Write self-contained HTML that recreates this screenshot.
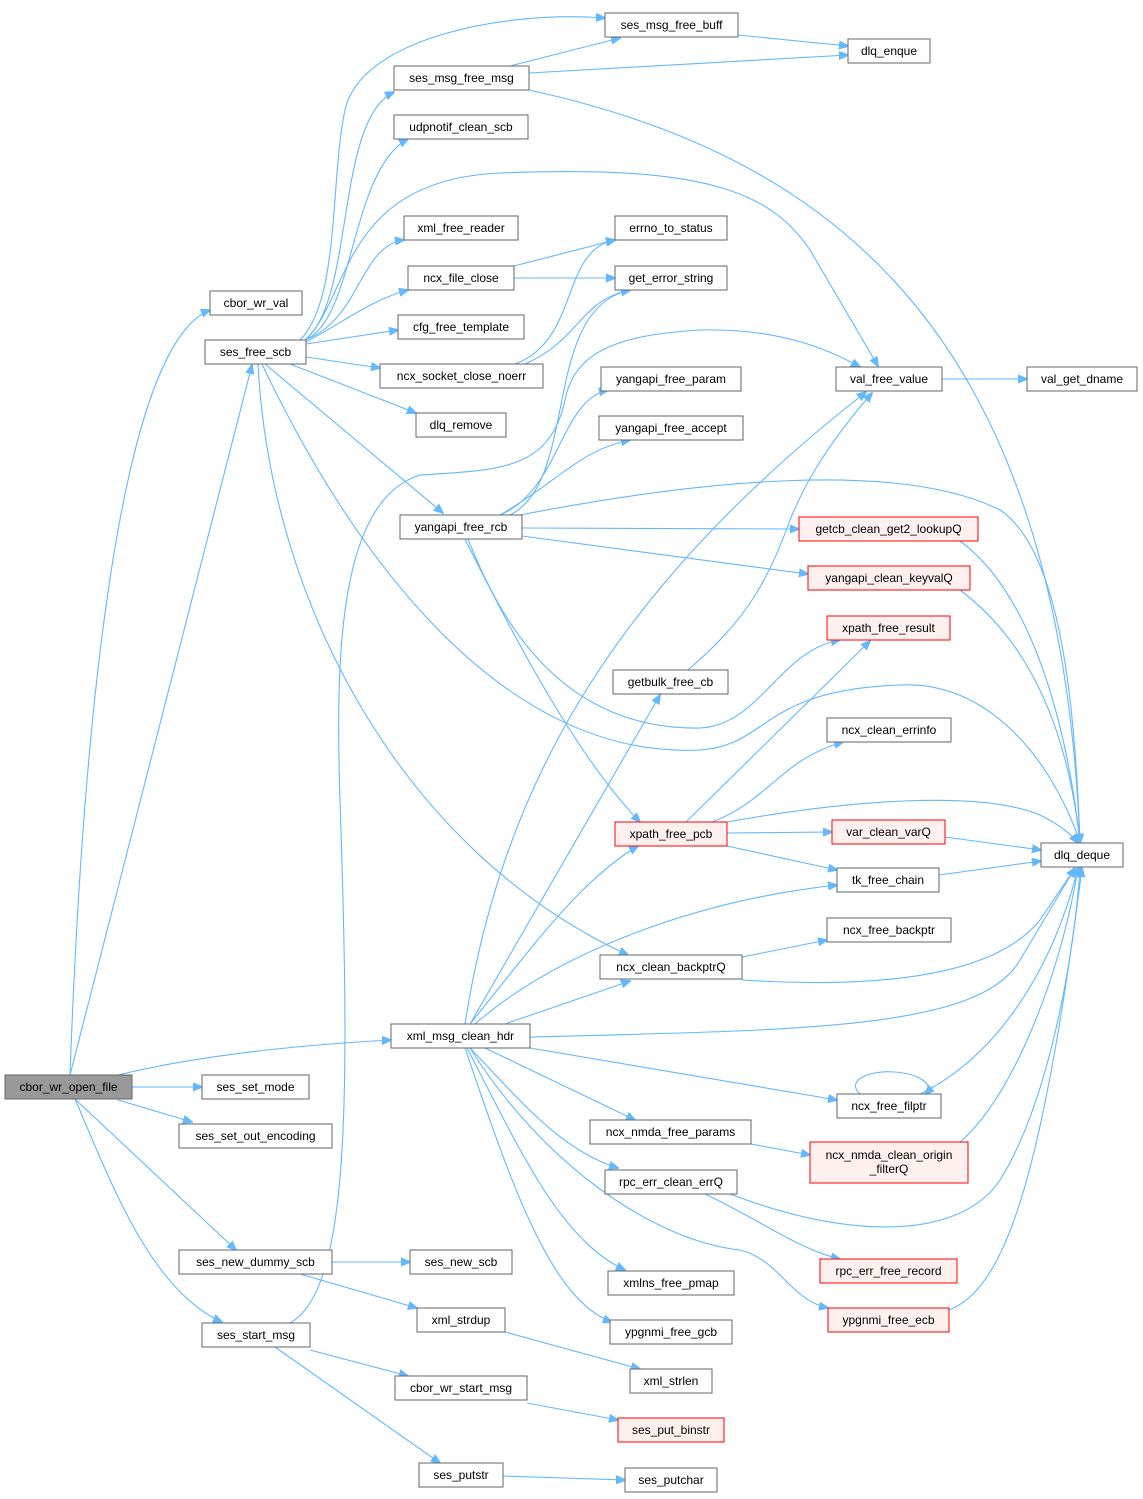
<!DOCTYPE html>
<html><head><meta charset="utf-8"><style>
html,body{margin:0;padding:0;background:#fff;}
svg{display:block;}
text{font-family:"Liberation Sans",Arial,sans-serif;font-size:12px;fill:#000;}
.e{fill:none;stroke:#63b8ff;stroke-width:1.1;marker-end:url(#a);}
.n{fill:#fff;stroke:#666;stroke-width:1;}
.r{fill:#fff0f0;stroke:#ff0000;stroke-width:1;}
.g{fill:#999;stroke:#666;stroke-width:1;}
</style></head><body>
<svg width="1143" height="1499" viewBox="0 0 1143 1499" xmlns="http://www.w3.org/2000/svg">
<defs><marker id="a" viewBox="0 0 10 10" refX="9" refY="5" markerWidth="10" markerHeight="10" markerUnits="userSpaceOnUse" orient="auto"><path d="M0,1 L10,5 L0,9 z" fill="#63b8ff" stroke="#63b8ff"/></marker></defs>
<g>
<path class="e" d="M70,1075 C80,800 110,350 210,310"/>
<path class="e" d="M70,1075 L252,365"/>
<path class="e" d="M118,1075 C200,1055 300,1045 391,1040"/>
<path class="e" d="M132,1087 L202,1087"/>
<path class="e" d="M118,1100 L192,1122"/>
<path class="e" d="M75,1099 L236,1250"/>
<path class="e" d="M75,1099 C110,1180 150,1290 222,1322"/>
<path class="e" d="M300,340 C340,300 330,180 345,110 C360,40 500,10 605,18"/>
<path class="e" d="M305,340 C355,300 335,120 394,92"/>
<path class="e" d="M305,340 C355,320 350,170 408,139"/>
<path class="e" d="M305,340 C350,300 340,180 500,173 C700,165 770,190 810,250 L878,366"/>
<path class="e" d="M305,340 C360,320 360,245 404,240"/>
<path class="e" d="M300,345 C340,325 370,300 408,290"/>
<path class="e" d="M306,344 L398,330"/>
<path class="e" d="M306,357 L380,368"/>
<path class="e" d="M290,364 L416,413"/>
<path class="e" d="M265,364 L443,513"/>
<path class="e" d="M258,364 C270,600 400,850 628,955"/>
<path class="e" d="M262,364 C350,550 500,760 700,750 C770,745 760,690 900,685 C1000,680 1060,780 1080,843"/>
<path class="e" d="M510,66 L620,38"/>
<path class="e" d="M529,73 L848,55"/>
<path class="e" d="M529,90 C850,160 1060,350 1080,843"/>
<path class="e" d="M738,35 L848,46"/>
<path class="e" d="M514,266 L615,240"/>
<path class="e" d="M514,278 L615,278"/>
<path class="e" d="M515,364 C580,340 560,250 615,240"/>
<path class="e" d="M525,364 C580,340 580,300 630,290"/>
<path class="e" d="M942,379 L1027,379"/>
<path class="e" d="M500,515 C560,490 560,400 608,390"/>
<path class="e" d="M500,515 C560,480 580,450 630,440"/>
<path class="e" d="M510,515 C580,480 540,310 630,290"/>
<path class="e" d="M520,515 C700,480 900,460 1000,510 C1060,550 1075,700 1080,843"/>
<path class="e" d="M522,528 L799,529"/>
<path class="e" d="M522,536 L808,574"/>
<path class="e" d="M465,539 C520,650 580,760 640,822"/>
<path class="e" d="M468,539 C500,620 560,730 700,728 C760,725 780,650 840,640"/>
<path class="e" d="M465,1024 C500,800 600,600 866,392"/>
<path class="e" d="M290,1323 C350,1290 350,1100 340,800 C335,650 340,500 420,475 C500,470 550,470 565,400 C575,350 620,335 700,330 C780,328 830,350 860,367"/>
<path class="e" d="M688,670 C740,625 765,590 790,520 C810,470 840,430 872,393"/>
<path class="e" d="M960,541 C1040,600 1070,750 1080,843"/>
<path class="e" d="M960,590 C1040,650 1070,750 1080,843"/>
<path class="e" d="M686,822 L870,641"/>
<path class="e" d="M712,822 C770,800 780,760 843,742"/>
<path class="e" d="M727,822 C850,800 980,790 1040,815 C1060,825 1072,835 1078,843"/>
<path class="e" d="M727,833 L832,832"/>
<path class="e" d="M727,846 L837,870"/>
<path class="e" d="M945,837 L1041,850"/>
<path class="e" d="M939,875 L1041,861"/>
<path class="e" d="M742,957 L827,940"/>
<path class="e" d="M742,980 C900,990 1000,970 1040,920 L1075,868"/>
<path class="e" d="M470,1024 L660,695"/>
<path class="e" d="M470,1024 C530,950 580,880 638,846"/>
<path class="e" d="M475,1024 C560,950 700,900 837,885"/>
<path class="e" d="M505,1024 L630,981"/>
<path class="e" d="M530,1037 C800,1030 980,1030 1020,960 L1075,868"/>
<path class="e" d="M530,1048 L837,1100"/>
<path class="e" d="M485,1048 L635,1120"/>
<path class="e" d="M470,1048 C520,1100 560,1150 618,1168"/>
<path class="e" d="M467,1048 C520,1150 560,1240 625,1270"/>
<path class="e" d="M465,1048 C510,1180 550,1300 612,1322"/>
<path class="e" d="M470,1048 C540,1160 650,1240 740,1250 C780,1260 790,1300 828,1308"/>
<path class="e" d="M860,1094 C845,1080 870,1070 895,1072 C920,1074 935,1085 925,1094"/>
<path class="e" d="M920,1094 C990,1060 1050,980 1078,868"/>
<path class="e" d="M751,1144 L810,1155"/>
<path class="e" d="M960,1142 C1010,1100 1060,980 1078,868"/>
<path class="e" d="M705,1194 C760,1220 800,1250 840,1259"/>
<path class="e" d="M730,1194 C850,1240 960,1240 1000,1180 C1050,1100 1075,950 1080,868"/>
<path class="e" d="M949,1310 C1000,1290 1040,1200 1082,868"/>
<path class="e" d="M332,1262 L410,1262"/>
<path class="e" d="M300,1274 L417,1308"/>
<path class="e" d="M505,1332 L640,1369"/>
<path class="e" d="M310,1350 L408,1376"/>
<path class="e" d="M275,1347 L440,1463"/>
<path class="e" d="M527,1403 L618,1420"/>
<path class="e" d="M503,1476 L625,1480"/>
</g>
<g text-anchor="middle">
<rect class="g" x="5" y="1075" width="127" height="24"/><text x="68.5" y="1091">cbor_wr_open_file</text>
<rect class="n" x="210" y="291" width="92" height="24"/><text x="256" y="307">cbor_wr_val</text>
<rect class="n" x="205" y="340" width="101" height="24"/><text x="255.5" y="356">ses_free_scb</text>
<rect class="n" x="202" y="1075" width="107" height="24"/><text x="255.5" y="1091">ses_set_mode</text>
<rect class="n" x="179" y="1124" width="153" height="24"/><text x="255.5" y="1140">ses_set_out_encoding</text>
<rect class="n" x="179" y="1250" width="153" height="24"/><text x="255.5" y="1266">ses_new_dummy_scb</text>
<rect class="n" x="202" y="1323" width="108" height="24"/><text x="256" y="1339">ses_start_msg</text>
<rect class="n" x="605" y="13" width="133" height="24"/><text x="671.5" y="29">ses_msg_free_buff</text>
<rect class="n" x="394" y="66" width="135" height="24"/><text x="461.5" y="82">ses_msg_free_msg</text>
<rect class="n" x="848" y="39" width="82" height="24"/><text x="889" y="55">dlq_enque</text>
<rect class="n" x="394" y="115" width="134" height="24"/><text x="461" y="131">udpnotif_clean_scb</text>
<rect class="n" x="404" y="216" width="114" height="24"/><text x="461" y="232">xml_free_reader</text>
<rect class="n" x="615" y="216" width="112" height="24"/><text x="671" y="232">errno_to_status</text>
<rect class="n" x="408" y="266" width="106" height="24"/><text x="461" y="282">ncx_file_close</text>
<rect class="n" x="615" y="266" width="112" height="24"/><text x="671" y="282">get_error_string</text>
<rect class="n" x="398" y="315" width="126" height="24"/><text x="461" y="331">cfg_free_template</text>
<rect class="n" x="380" y="364" width="163" height="24"/><text x="461.5" y="380">ncx_socket_close_noerr</text>
<rect class="n" x="836" y="367" width="106" height="24"/><text x="889" y="383">val_free_value</text>
<rect class="n" x="1027" y="367" width="110" height="24"/><text x="1082" y="383">val_get_dname</text>
<rect class="n" x="416" y="413" width="90" height="24"/><text x="461" y="429">dlq_remove</text>
<rect class="n" x="601" y="367" width="140" height="24"/><text x="671" y="383">yangapi_free_param</text>
<rect class="n" x="599" y="416" width="144" height="24"/><text x="671" y="432">yangapi_free_accept</text>
<rect class="n" x="400" y="515" width="122" height="24"/><text x="461" y="531">yangapi_free_rcb</text>
<rect class="r" x="799" y="517" width="179" height="24"/><text x="888.5" y="533">getcb_clean_get2_lookupQ</text>
<rect class="r" x="808" y="566" width="162" height="24"/><text x="889" y="582">yangapi_clean_keyvalQ</text>
<rect class="r" x="827" y="616" width="123" height="24"/><text x="888.5" y="632">xpath_free_result</text>
<rect class="n" x="613" y="670" width="115" height="24"/><text x="670.5" y="686">getbulk_free_cb</text>
<rect class="n" x="827" y="718" width="124" height="24"/><text x="889" y="734">ncx_clean_errinfo</text>
<rect class="r" x="615" y="822" width="112" height="24"/><text x="671" y="838">xpath_free_pcb</text>
<rect class="r" x="832" y="820" width="113" height="24"/><text x="888.5" y="836">var_clean_varQ</text>
<rect class="n" x="1041" y="843" width="82" height="24"/><text x="1082" y="859">dlq_deque</text>
<rect class="n" x="837" y="868" width="102" height="24"/><text x="888" y="884">tk_free_chain</text>
<rect class="n" x="827" y="918" width="124" height="24"/><text x="889" y="934">ncx_free_backptr</text>
<rect class="n" x="600" y="955" width="142" height="24"/><text x="671" y="971">ncx_clean_backptrQ</text>
<rect class="n" x="391" y="1024" width="139" height="24"/><text x="460.5" y="1040">xml_msg_clean_hdr</text>
<rect class="n" x="837" y="1094" width="104" height="24"/><text x="889" y="1110">ncx_free_filptr</text>
<rect class="n" x="590" y="1120" width="161" height="24"/><text x="670.5" y="1136">ncx_nmda_free_params</text>
<rect class="r" x="810" y="1142" width="158" height="41"/><text x="889" y="1159">ncx_nmda_clean_origin</text><text x="889" y="1173">_filterQ</text>
<rect class="n" x="605" y="1170" width="132" height="24"/><text x="671" y="1186">rpc_err_clean_errQ</text>
<rect class="r" x="820" y="1259" width="137" height="24"/><text x="888.5" y="1275">rpc_err_free_record</text>
<rect class="n" x="608" y="1271" width="126" height="24"/><text x="671" y="1287">xmlns_free_pmap</text>
<rect class="r" x="828" y="1308" width="121" height="24"/><text x="888.5" y="1324">ypgnmi_free_ecb</text>
<rect class="n" x="610" y="1320" width="122" height="24"/><text x="671" y="1336">ypgnmi_free_gcb</text>
<rect class="n" x="410" y="1250" width="102" height="24"/><text x="461" y="1266">ses_new_scb</text>
<rect class="n" x="417" y="1308" width="88" height="24"/><text x="461" y="1324">xml_strdup</text>
<rect class="n" x="630" y="1369" width="82" height="24"/><text x="671" y="1385">xml_strlen</text>
<rect class="n" x="395" y="1376" width="132" height="24"/><text x="461" y="1392">cbor_wr_start_msg</text>
<rect class="r" x="618" y="1418" width="106" height="24"/><text x="671" y="1434">ses_put_binstr</text>
<rect class="n" x="419" y="1463" width="84" height="24"/><text x="461" y="1479">ses_putstr</text>
<rect class="n" x="625" y="1468" width="92" height="24"/><text x="671" y="1484">ses_putchar</text>
</g>
</svg>
</body></html>
